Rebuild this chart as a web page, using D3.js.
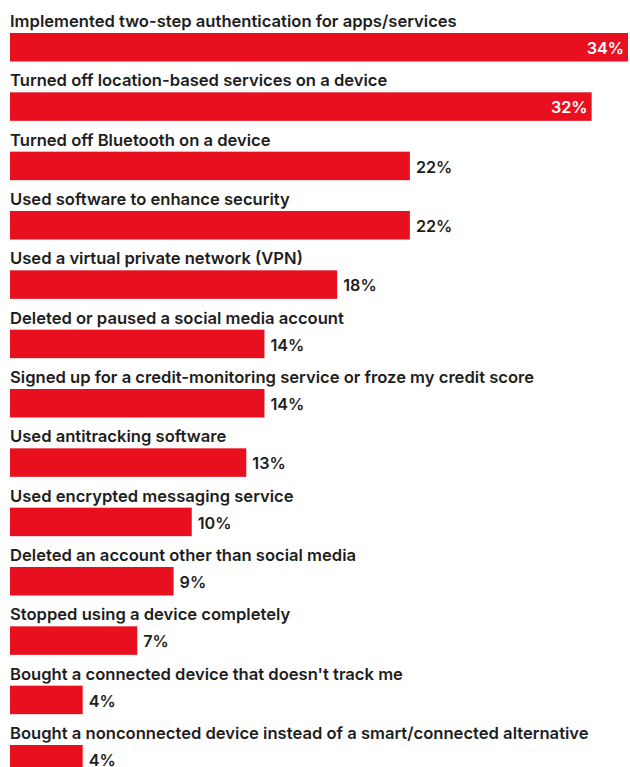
<!DOCTYPE html>
<html><head><meta charset="utf-8">
<script src="https://cdn.jsdelivr.net/npm/d3@7"></script>
<style>
html,body{margin:0;padding:0;background:#fff;}
svg{display:block;}
</style></head>
<body>
<script>
const categories = [
  "Implemented two-step authentication for apps/services",
  "Turned off location-based services on a device",
  "Turned off Bluetooth on a device",
  "Used software to enhance security",
  "Used a virtual private network (VPN)",
  "Deleted or paused a social media account",
  "Signed up for a credit-monitoring service or froze my credit score",
  "Used antitracking software",
  "Used encrypted messaging service",
  "Deleted an account other than social media",
  "Stopped using a device completely",
  "Bought a connected device that doesn't track me",
  "Bought a nonconnected device instead of a smart/connected alternative"
];
const values = [34, 32, 22, 22, 18, 14, 14, 13, 10, 9, 7, 4, 4];
const insideLabels = [true, true, false, false, false, false, false, false, false, false, false, false, false];

const W = 630, H = 767;
const svg = d3.select("body").append("svg").attr("width", W).attr("height", H);

const x = d3.scaleLinear().domain([0, 34]).range([10, 628]);
const y = d3.scalePoint().domain(categories).range([33, 745]);
const barH = 28.5;
const font = "Inter, 'Open Sans', sans-serif";

const rows = svg.selectAll("g.row").data(categories.map((c, i) => ({c, v: values[i], inside: insideLabels[i]})))
  .enter().append("g").attr("class", "row");

rows.append("text")
  .attr("x", 10)
  .attr("y", d => y(d.c) - 6)
  .attr("font-family", font)
  .attr("font-weight", 600)
  .attr("font-size", 16.6)
  .attr("fill", "#1e1e1e")
  .text(d => d.c);

rows.append("rect")
  .attr("x", x(0))
  .attr("y", d => y(d.c))
  .attr("width", d => x(d.v) - x(0))
  .attr("height", barH)
  .attr("fill", "#e8101f");

rows.append("text")
  .attr("x", d => d.inside ? x(d.v) - 4 : x(d.v) + 6)
  .attr("y", d => y(d.c) + 21)
  .attr("text-anchor", d => d.inside ? "end" : "start")
  .attr("font-family", font)
  .attr("font-weight", 600)
  .attr("font-size", 16.2)
  .attr("fill", d => d.inside ? "#fff" : "#1e1e1e")
  .text(d => d.v + "%");
</script>
</body></html>
